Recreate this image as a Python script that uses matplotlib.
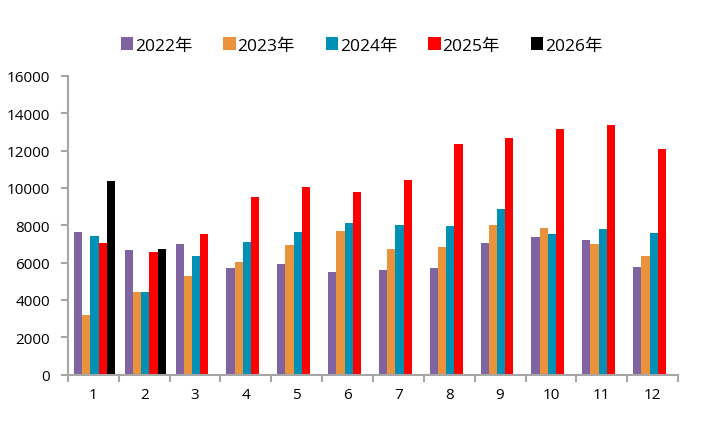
import numpy as np
import matplotlib
matplotlib.use('Agg')
import matplotlib.pyplot as plt

plt.rcParams['font.family'] = ['Open Sans', 'Noto Sans CJK SC', 'DejaVu Sans']

# Datos
months = ['1', '2', '3', '4', '5', '6', '7', '8', '9', '10', '11', '12']
y2022 = [7620, 6650, 6990, 5700, 5900, 5490, 5600, 5700, 7040, 7360, 7200, 5760]
y2023 = [3190, 4400, 5280, 6020, 6940, 7680, 6720, 6830, 8010, 7850, 6990, 6350]
y2024 = [7420, 4400, 6350, 7100, 7620, 8110, 8010, 7950, 8860, 7520, 7790, 7580]
y2025 = [7040, 6560, 7520, 9500, 10040, 9770, 10420, 12340, 12660, 13150, 13360, 12080]
y2026 = [10350, 6720]

series = [('2022年', y2022, '#8064A2'),
          ('2023年', y2023, '#EB923D'),
          ('2024年', y2024, '#0090B6'),
          ('2025年', y2025, '#FF0000'),
          ('2026年', y2026, '#000000')]

fig = plt.figure(figsize=(7.23, 4.31), dpi=100)
ax = fig.add_axes([68 / 723, 1 - 375.5 / 431, 610 / 723, 298.5 / 431])

x = np.arange(len(months))
w = 0.161
for i, (name, vals, color) in enumerate(series):
    xs = x[:len(vals)] + (i - 2) * w + 0.02
    ax.bar(xs, vals, width=w, color=color, label=name, linewidth=0)

gray = '#A6A6A6'
ax.set_xlim(-0.5, len(months) - 0.5)
ax.set_ylim(0, 16000)
ax.set_yticks(range(0, 16001, 2000))
ax.set_xticks(x)
ax.set_xticklabels(months)
ax.set_xticks(np.arange(-0.5, len(months), 1), minor=True)
ax.tick_params(axis='x', which='major', length=0, pad=9, labelsize=11)
ax.tick_params(axis='x', which='minor', length=5, width=1.5, color=gray)
ax.tick_params(axis='y', length=5, width=1.5, color=gray, labelsize=11, pad=8)
for s in ['top', 'right']:
    ax.spines[s].set_visible(False)
for s in ['left', 'bottom']:
    ax.spines[s].set_color(gray)
    ax.spines[s].set_linewidth(1.5)

fig.legend(loc='center', bbox_to_anchor=(0.5, 1 - 46.5 / 431), ncol=5, frameon=False,
           fontsize=12.5, handlelength=0.7, handleheight=0.7, handletextpad=0.1,
           columnspacing=1.8)

fig.savefig('out.png', dpi=100)
